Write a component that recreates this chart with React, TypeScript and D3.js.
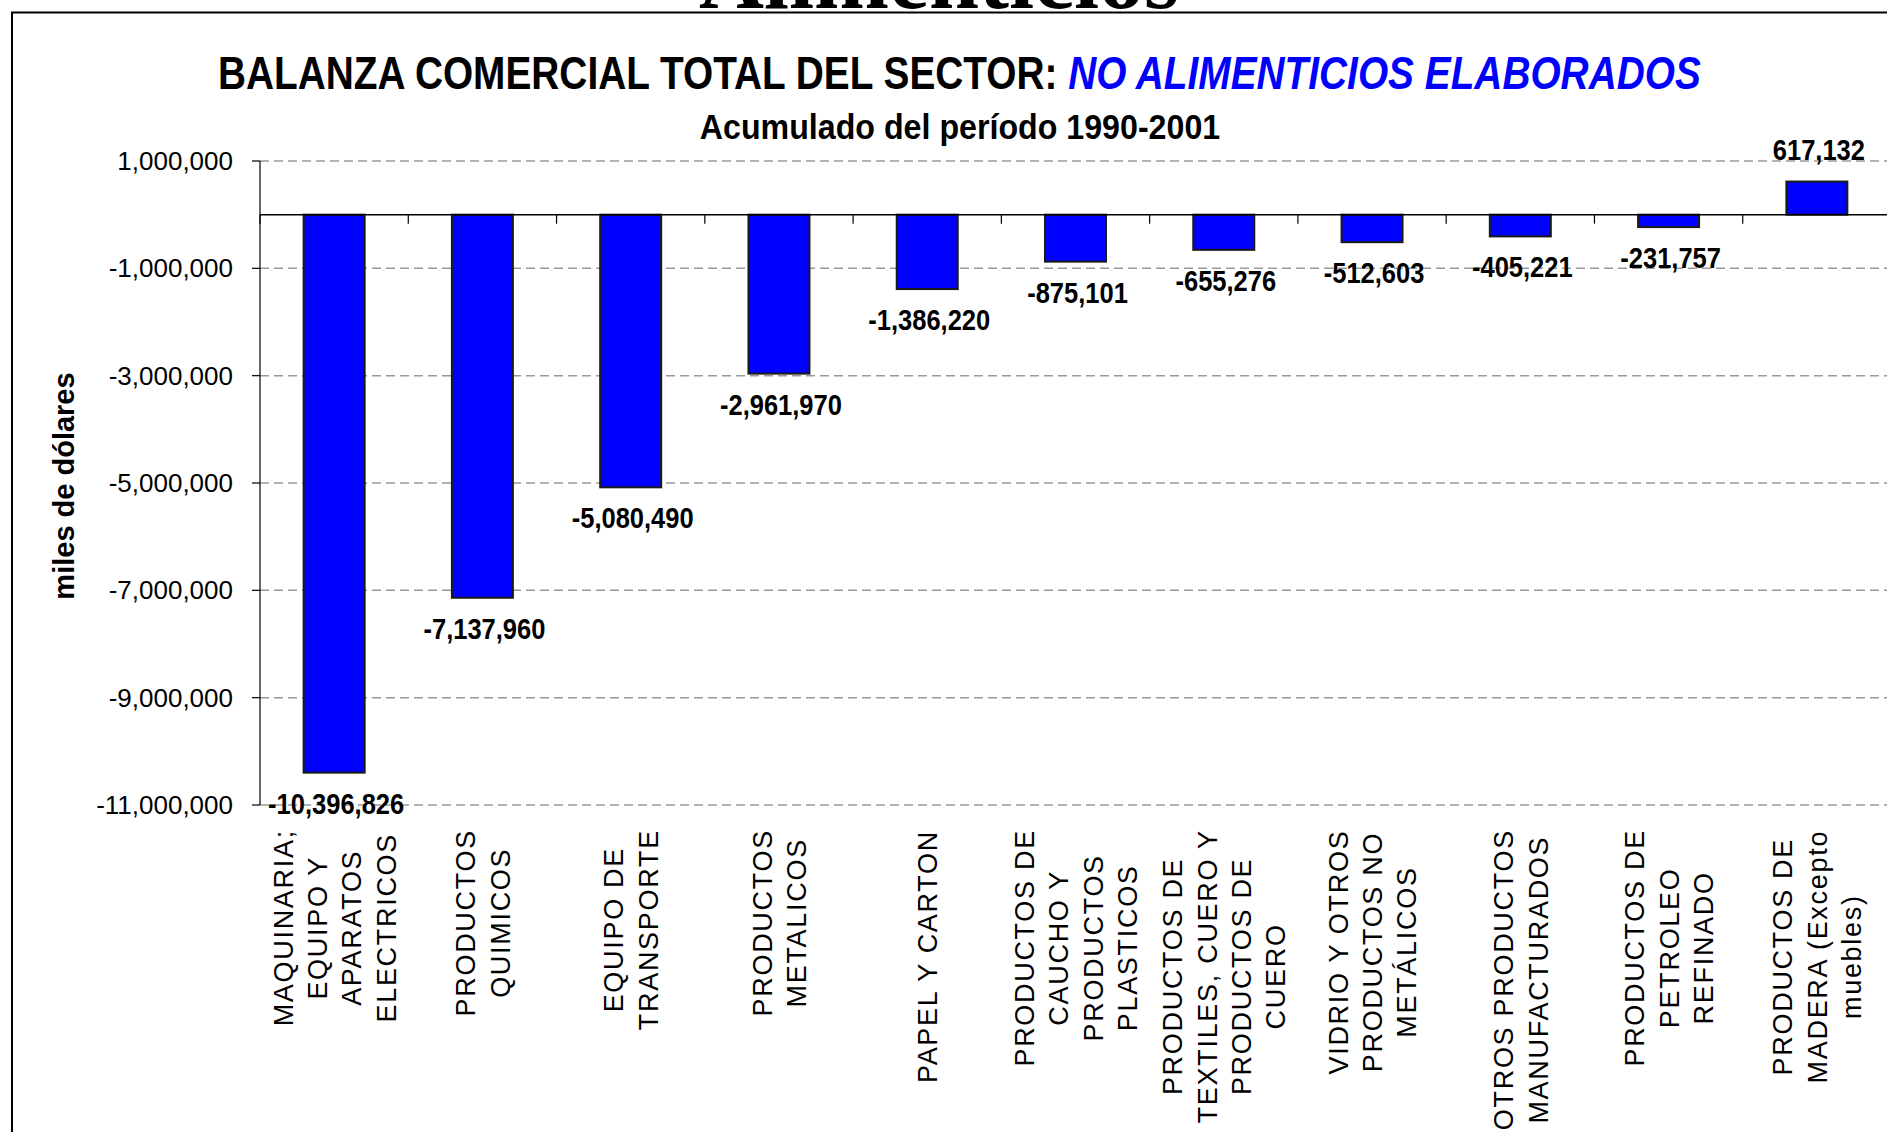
import React from "react";
import * as d3 from "d3";

const categories: string[][] = [
  ["MAQUINARIA;", "EQUIPO Y", "APARATOS", "ELECTRICOS"],
  ["PRODUCTOS", "QUIMICOS"],
  ["EQUIPO DE", "TRANSPORTE"],
  ["PRODUCTOS", "METALICOS"],
  ["PAPEL Y CARTON"],
  ["PRODUCTOS DE", "CAUCHO Y", "PRODUCTOS", "PLASTICOS"],
  ["PRODUCTOS DE", "TEXTILES, CUERO Y", "PRODUCTOS DE", "CUERO"],
  ["VIDRIO Y OTROS", "PRODUCTOS NO", "METÁLICOS"],
  ["OTROS PRODUCTOS", "MANUFACTURADOS"],
  ["PRODUCTOS DE", "PETROLEO", "REFINADO"],
  ["PRODUCTOS DE", "MADERA (Excepto", "muebles)"],
];

const values: number[] = [
  -10396826, -7137960, -5080490, -2961970, -1386220, -875101, -655276,
  -512603, -405221, -231757, 617132,
];

const yTicks: number[] = [
  1000000, -1000000, -3000000, -5000000, -7000000, -9000000, -11000000,
];

const titleBlack = "BALANZA COMERCIAL TOTAL DEL SECTOR: ";
const titleBlue = "NO ALIMENTICIOS ELABORADOS";
const subtitle = "Acumulado del período 1990-2001";
const yLabel = "miles de dólares";
const topCut = "Alimenticios";

const FONT = "'Liberation Sans', Arial, sans-serif";
const catFontSize = 27;
const catLetterSpacing = 1.7;

function measure(text: string, font: string): number {
  const c = document.createElement("canvas");
  const ctx = c.getContext("2d");
  if (!ctx) return text.length * 15;
  ctx.font = font;
  return ctx.measureText(text).width;
}

const locale = d3.formatLocale({
  decimal: ".",
  thousands: ",",
  grouping: [3],
  currency: ["$", ""],
  minus: "-",
});
const fmt = locale.format(",");

export default function App() {
  const W = 1887;
  const H = 1132;
  const x = d3
    .scaleBand<number>()
    .domain(d3.range(values.length))
    .range([260, 1891])
    .paddingInner(0)
    .paddingOuter(0);
  const y = d3.scaleLinear().domain([-11000000, 1000000]).range([805, 161]);
  const barW = 61;
  const bw = x.bandwidth();

  return (
    <svg
      width={W}
      height={H}
      style={{ position: "absolute", left: 0, top: 0, background: "#fff" }}
      fontFamily={FONT}
    >
      <rect x={0} y={0} width={W} height={H} fill="#fff" />
      {/* cut-off page title */}
      <text
        x={939}
        y={8}
        textAnchor="middle"
        fontFamily="'Liberation Serif', 'Times New Roman', serif"
        fontWeight="bold"
        fontSize={90}
      >
        {topCut}
      </text>
      {/* chart frame */}
      <rect x={12} y={12.5} width={2000} height={2000} fill="none" stroke="#000" strokeWidth={2} />

      {/* title */}
      <text transform="translate(218,89) scale(0.826,1)" fontWeight="bold" fontSize={47}>
        <tspan fill="#000">{titleBlack}</tspan>
        <tspan fill="#0000FF" fontStyle="italic">{titleBlue}</tspan>
      </text>
      <text
        transform="translate(960,139) scale(0.92,1)"
        textAnchor="middle"
        fontWeight="bold"
        fontSize={35}
      >
        {subtitle}
      </text>

      {/* gridlines */}
      {yTicks.map((t) => (
        <line
          key={"g" + t}
          x1={260}
          x2={1891}
          y1={y(t)}
          y2={y(t)}
          stroke="#9a9a9a"
          strokeWidth={1.5}
          strokeDasharray="9,5"
        />
      ))}

      {/* y axis */}
      <line x1={260} x2={260} y1={y(1000000)} y2={y(-11000000)} stroke="#000" strokeWidth={1.2} />
      {yTicks.map((t) => (
        <g key={"t" + t}>
          <line x1={252} x2={260} y1={y(t)} y2={y(t)} stroke="#000" strokeWidth={1.2} />
          <text x={233} y={y(t) + 9} textAnchor="end" fontSize={26}>
            {fmt(t)}
          </text>
        </g>
      ))}
      <text
        transform={`translate(74,486) rotate(-90)`}
        textAnchor="middle"
        fontWeight="bold"
        fontSize={29}
      >
        {yLabel}
      </text>

      {/* bars */}
      {values.map((v, i) => {
        const cx = (x(i) as number) + bw / 2;
        const y0 = y(0);
        const yv = y(v);
        return (
          <rect
            key={"b" + i}
            x={cx - barW / 2}
            y={Math.min(y0, yv)}
            width={barW}
            height={Math.abs(yv - y0)}
            fill="#0000FF"
            stroke="#1a1a1a"
            strokeWidth={2}
          />
        );
      })}

      {/* zero line + category ticks */}
      <line x1={260} x2={1891} y1={y(0)} y2={y(0)} stroke="#000" strokeWidth={1.5} />
      {d3.range(values.length).map((i) => (
        <line
          key={"ct" + i}
          x1={x(i) as number}
          x2={x(i) as number}
          y1={y(0)}
          y2={y(0) + 9}
          stroke="#000"
          strokeWidth={1.2}
        />
      ))}

      {/* value labels */}
      {values.map((v, i) => {
        const cx = (x(i) as number) + bw / 2;
        const ly = v >= 0 ? y(v) - 22 : y(v) + 41;
        return (
          <text
            key={"l" + i}
            transform={`translate(${cx + 2},${ly}) scale(0.85,1)`}
            textAnchor="middle"
            fontWeight="bold"
            fontSize={30}
          >
            {fmt(v)}
          </text>
        );
      })}

      {/* category labels */}
      {categories.map((lines, i) => {
        const cx = (x(i) as number) + bw / 2;
        const font = `${catFontSize}px 'Liberation Sans', Arial, sans-serif`;
        const lens = lines.map(
          (l) => measure(l, font) + catLetterSpacing * (l.length - 1)
        );
        const maxLen = d3.max(lens) || 0;
        const centerY = 830 + maxLen / 2;
        const n = lines.length;
        const spacing = 34.4;
        return (
          <g key={"c" + i}>
            {lines.map((l, j) => {
              const lineCx = cx + (j - (n - 1) / 2) * spacing;
              const bx = lineCx + 10;
              return (
                <text
                  key={j}
                  transform={`translate(${bx},${centerY}) rotate(-90)`}
                  textAnchor="middle"
                  fontSize={catFontSize}
                  letterSpacing={catLetterSpacing}
                >
                  {l}
                </text>
              );
            })}
          </g>
        );
      })}
    </svg>
  );
}
